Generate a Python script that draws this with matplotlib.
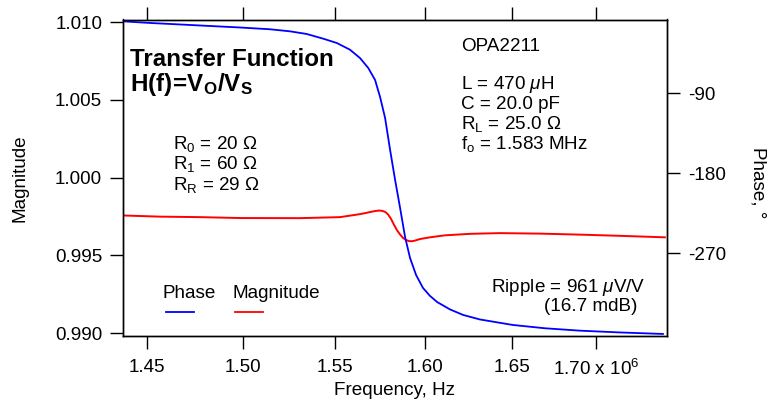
import numpy as np
import matplotlib
matplotlib.use("Agg")
import matplotlib.pyplot as plt
from matplotlib.lines import Line2D

plt.rcParams['font.family'] = ['Liberation Sans', 'DejaVu Sans']
plt.rcParams['mathtext.fontset'] = 'custom'
plt.rcParams['mathtext.rm'] = 'Liberation Sans'
plt.rcParams['mathtext.it'] = 'Liberation Sans:italic'
plt.rcParams['mathtext.bf'] = 'Liberation Sans:bold'

# Phase response (frequency in MHz, phase in degrees)
phase_freq_mhz = [1.4387, 1.4515, 1.4671, 1.4827, 1.4986, 1.5146, 1.5253, 1.5344,
                  1.5434, 1.5508, 1.5581, 1.5636, 1.5682, 1.5720, 1.5748, 1.5776,
                  1.5804, 1.5832, 1.5860, 1.5888, 1.5916, 1.5950, 1.5989, 1.6029,
                  1.6069, 1.6143, 1.6218, 1.6315, 1.6507, 1.6695, 1.6904, 1.7145,
                  1.7408]
phase_deg = [-9.2, -10.9, -12.6, -14.3, -16.0, -18.0, -20.3, -23.3,
             -28.6, -33.4, -41.0, -50.3, -61.5, -75.0, -94.2, -117.8,
             -153.8, -187.5, -219.0, -251.7, -275.3, -294.4, -309.0, -318.0,
             -324.8, -333.2, -339.4, -344.5, -350.7, -354.4, -357.1, -359.1,
             -360.8]

# Magnitude response (frequency in MHz, V/V)
mag_freq_mhz = [1.4387, 1.4567, 1.4775, 1.4986, 1.5307, 1.5526, 1.5636, 1.5664,
                1.5692, 1.5720, 1.5742, 1.5759, 1.5776, 1.5792, 1.5809, 1.5826,
                1.5843, 1.5860, 1.5876, 1.5893, 1.5910, 1.5927, 1.5944, 1.5972,
                1.6029, 1.6114, 1.6258, 1.6431, 1.6666, 1.6904, 1.7145, 1.7420]
magnitude = [0.997563, 0.997492, 0.997460, 0.997402, 0.997395, 0.997460, 0.997653, 0.997717,
             0.997788, 0.997852, 0.997884, 0.997865, 0.997801, 0.997640, 0.997350, 0.996965,
             0.996611, 0.996341, 0.996129, 0.995987, 0.995916, 0.995910, 0.995949, 0.996051,
             0.996161, 0.996289, 0.996386, 0.996431, 0.996399, 0.996334, 0.996257, 0.996161]

x_ticks = [1.45e6, 1.50e6, 1.55e6, 1.60e6, 1.65e6, 1.70e6]
x_tick_labels = ['1.45', '1.50', '1.55', '1.60', '1.65', '1.70 x 10$^{6}$']
mag_ticks = [0.990, 0.995, 1.000, 1.005, 1.010]
mag_tick_labels = ['0.990', '0.995', '1.000', '1.005', '1.010']
phase_ticks = [-270, -180, -90]
phase_tick_labels = ['-270', '-180', '-90']

W, H = 768, 403
fig = plt.figure(figsize=(W / 100, H / 100), dpi=100)
L, R, T, B = 123, 667, 19.5, 336
ax = fig.add_axes([L / W, 1 - B / H, (R - L) / W, (B - T) / H])
ax2 = ax.twinx()

f_mag = np.array(mag_freq_mhz) * 1e6
f_ph = np.array(phase_freq_mhz) * 1e6
ax.plot(f_mag, magnitude, color='#ff0000', lw=1.4, solid_joinstyle='round')
ax2.plot(f_ph, phase_deg, color='#0000ff', lw=1.3, solid_joinstyle='round')

ax.set_xscale('log')
ax.set_xlim(1.4377e6, 1.7433e6)
ax.set_ylim(0.98981, 1.01018)
ax2.set_ylim(-363.1, -7.0)

ax.xaxis.set_minor_locator(matplotlib.ticker.NullLocator())
ax.xaxis.set_minor_formatter(matplotlib.ticker.NullFormatter())
ax.set_xticks(x_ticks)
ax.set_xticklabels(x_tick_labels)
ax.set_yticks(mag_ticks)
ax.set_yticklabels(mag_tick_labels)
ax2.set_yticks(phase_ticks)
ax2.set_yticklabels(phase_tick_labels)

fs = 13.6
tick_kw = dict(direction='out', length=9.5, width=1.0, labelsize=fs, color='black')
ax.tick_params(axis='x', which='both', top=True, bottom=True, labeltop=False, pad=7, **tick_kw)
ax.tick_params(axis='y', left=True, right=False, pad=5.5, **tick_kw)
ax2.tick_params(axis='y', right=True, left=False, pad=6, **tick_kw)
for a in (ax, ax2):
    for s in a.spines.values():
        s.set_linewidth(1.0)

def axfrac(px, py):
    return (px - L) / (R - L), (B - py) / (B - T)

ax.set_xlabel('Frequency, Hz', fontsize=fs, va='baseline', ha='center')
ax.xaxis.set_label_coords(*axfrac(395, 395))
ax.set_ylabel('Magnitude', fontsize=fs, va='center', ha='center')
ax.yaxis.set_label_coords(*axfrac(20, 178))
ax2.set_ylabel('Phase, °', fontsize=fs, rotation=270, va='center', ha='center')
ax2.yaxis.set_label_coords(*axfrac(758, 183))

def txt(px, py, s, size=fs, **kw):
    x, y = axfrac(px, py)
    ax2.text(x, y, s, transform=ax2.transAxes, va='baseline', fontsize=size, **kw)

txt(130, 66, 'Transfer Function', size=17.4, fontweight='bold')
txt(130, 91, r'$\mathbf{H(f)\!=\!V_{O}/V_{S}}$', size=17.4)

txt(173, 149, r'R$_{0}$ = 20 Ω')
txt(173, 169, r'R$_{1}$ = 60 Ω')
txt(173, 190, r'R$_{\mathrm{R}}$ = 29 Ω')

txt(461, 51, 'OPA2211')
txt(461, 89, r'L = 470 $\mu$H')
txt(461, 109, 'C = 20.0 pF')
txt(461, 129, r'R$_{\mathrm{L}}$ = 25.0 Ω')
txt(461, 149, r'f$_{\mathrm{o}}$ = 1.583 MHz')

txt(645, 292, r'Ripple = 961 $\mu$V/V', ha='right')
txt(637, 311, '(16.7 mdB)', ha='right')

# Legend: labels above short line samples
txt(163, 298, 'Phase')
txt(232, 298, 'Magnitude')
for (x0, x1), c in (((166, 194), '#0000ff'), ((235, 263), '#ff0000')):
    (ax0, ay), (ax1_, _) = axfrac(x0, 311.7), axfrac(x1, 311.7)
    ax2.add_line(Line2D([ax0, ax1_], [ay, ay], transform=ax2.transAxes,
                        color=c, lw=1.3, clip_on=False))

fig.savefig('out.png', dpi=100)
